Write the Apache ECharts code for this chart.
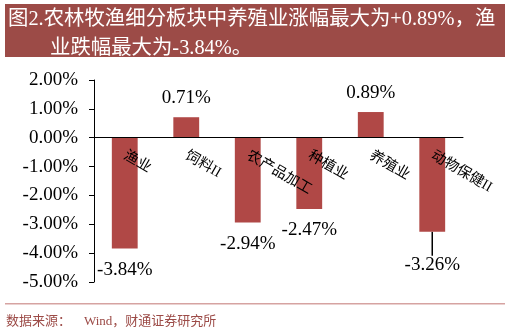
<!DOCTYPE html>
<html><head><meta charset="utf-8">
<script src="https://cdn.jsdelivr.net/npm/echarts@6/dist/echarts.min.js"></script>
<style>html,body{margin:0;padding:0;background:#fff}#c{width:510px;height:335px}</style>
</head><body><div id="c"></div>
<script>
var categories = ['渔业', '饲料II', '农产品加工', '种植业', '养殖业', '动物保健II'];
var changes = [-3.84, 0.71, -2.94, -2.47, 0.89, -3.26];
var yTicks = { min: -5, max: 2, interval: 1 };
var titleLine1 = '图2.农林牧渔细分板块中养殖业涨幅最大为+0.89%，渔';
var titleLine2 = '业跌幅最大为-3.84%。';
var sourceText = '数据来源：    Wind，财通证券研究所';

var SERIF = '"Liberation Serif","Times New Roman","Noto Sans CJK SC",serif';
var GRID = { left: 94, right: 47, top: 80, bottom: 53 };
var plotH = 335 - GRID.top - GRID.bottom;
// move the category axis (line, ticks and labels) up to the zero value line
var zeroOffset = -plotH * (0 - yTicks.min) / (yTicks.max - yTicks.min);

var chart = echarts.init(document.getElementById('c'));
chart.setOption({
  animation: false,
  backgroundColor: '#fff',
  grid: GRID,
  xAxis: {
    type: 'category', data: categories, position: 'bottom', offset: zeroOffset, z: 5,
    axisLine: { onZero: false, lineStyle: { color: '#000', width: 1 } },
    axisTick: { length: 4, lineStyle: { color: '#000' } },
    axisLabel: { rotate: -30, margin: 17, color: '#000', fontSize: 14.5, fontFamily: SERIF }
  },
  yAxis: {
    type: 'value', min: yTicks.min, max: yTicks.max, interval: yTicks.interval,
    splitLine: { show: false },
    axisLine: { show: true, lineStyle: { color: '#000' } },
    axisTick: { show: true, length: 5, lineStyle: { color: '#000' } },
    axisLabel: { margin: 16, color: '#000', fontSize: 19, fontFamily: SERIF,
      formatter: function (v) { return v.toFixed(2) + '%'; } }
  },
  series: [{
    type: 'bar', barWidth: '42%', z: 2,
    itemStyle: { color: '#b04846' },
    data: changes.map(function (v, i) {
      return { value: v,
        label: v >= 0 ? { position: 'top', distance: 10 } : { position: 'bottom', distance: 12 },
        labelLine: { show: i === 5 } };
    }),
    label: { show: true, color: '#000', fontSize: 19, fontFamily: SERIF,
      formatter: function (p) { return p.value.toFixed(2) + '%'; } },
    labelLine: { show: false, lineStyle: { color: '#000', width: 1.5 } },
    labelLayout: function (p) {
      if (p.dataIndex === 5) return { dy: 12 };
      return {};
    }
  }],
  graphic: [
    { type: 'rect', shape: { x: 5, y: 4, width: 500, height: 53 }, style: { fill: '#9c4b47' } },
    { type: 'text', x: 8, y: 20, style: { text: titleLine1, fill: '#fff', font: '20.4px ' + SERIF, verticalAlign: 'middle' } },
    { type: 'text', x: 50, y: 49, style: { text: titleLine2, fill: '#fff', font: '20.4px ' + SERIF, verticalAlign: 'middle' } },
    { type: 'rect', shape: { x: 5, y: 303, width: 500, height: 1.5 }, style: { fill: '#d6a3a1' } },
    { type: 'text', x: 6, y: 322, style: { text: sourceText, fill: '#9c4b47', font: '13px ' + SERIF, verticalAlign: 'middle' } }
  ]
});
</script></body></html>
